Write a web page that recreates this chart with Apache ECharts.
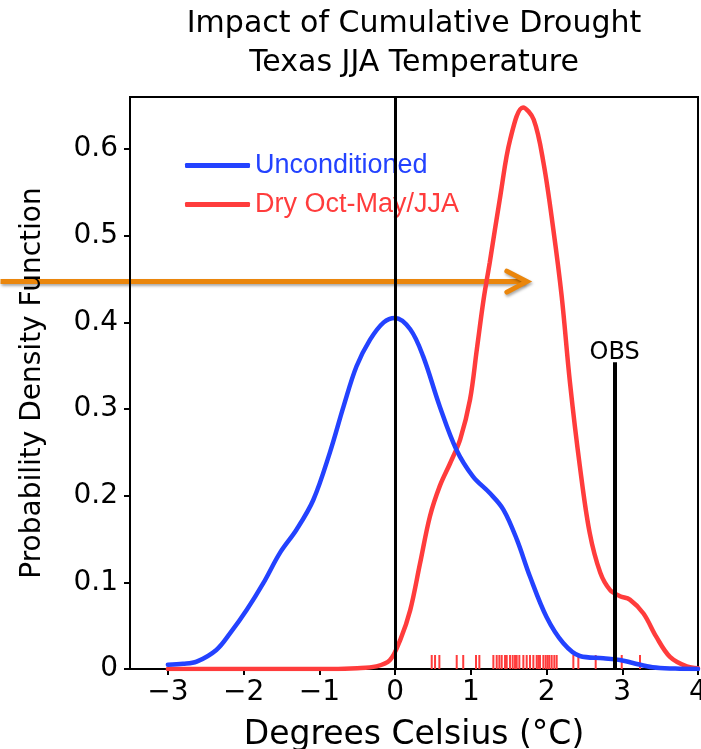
<!DOCTYPE html>
<html>
<head>
<meta charset="utf-8">
<script src="https://cdn.jsdelivr.net/npm/echarts@6/dist/echarts.min.js"></script>
<style>html,body{margin:0;padding:0;background:#fff;}#c{width:701px;height:749px;}</style>
</head>
<body>
<div id="c"></div>
<script>
// ---- data ----
const titleLines = ['Impact of Cumulative Drought', 'Texas JJA Temperature'];
const xTicks = [-3, -2, -1, 0, 1, 2, 3, 4];
const yTicks = [0, 0.1, 0.2, 0.3, 0.4, 0.5, 0.6];
const seriesNames = ['Unconditioned', 'Dry Oct-May/JJA'];
const unconditioned = [
  [-3.0,0.005],[-2.8,0.006],[-2.62,0.0085],[-2.36,0.022],[-2.18,0.041],[-1.96,0.068],
  [-1.74,0.099],[-1.52,0.134],[-1.30,0.161],[-1.08,0.195],[-0.86,0.25],[-0.68,0.303],
  [-0.51,0.349],[-0.33,0.38],[-0.15,0.40],[0,0.405],[0.2,0.392],[0.37,0.361],
  [0.59,0.303],[0.81,0.253],[1.03,0.222],[1.25,0.203],[1.43,0.184],[1.61,0.149],
  [1.78,0.107],[2.0,0.06],[2.22,0.030],[2.44,0.015],[2.75,0.0124],[2.97,0.0104],
  [3.14,0.007],[3.4,0.002],[3.7,0.0005],[4.0,0]
];
const dryCond = [
  [-3.0,0],[-2,0],[-1,0],[-0.5,0.001],[-0.25,0.003],[-0.07,0.010],[0.07,0.034],
  [0.2,0.068],[0.33,0.122],[0.46,0.176],[0.59,0.211],[0.73,0.238],[0.86,0.265],
  [0.99,0.311],[1.08,0.369],[1.17,0.427],[1.25,0.469],[1.39,0.546],[1.52,0.611],
  [1.69,0.648],[1.83,0.634],[1.96,0.584],[2.09,0.507],[2.2,0.43],[2.31,0.33],
  [2.44,0.234],[2.57,0.157],[2.71,0.111],[2.84,0.091],[2.97,0.084],[3.1,0.08],
  [3.28,0.064],[3.45,0.037],[3.63,0.014],[3.85,0.003],[4.0,0.001]
];
const rugValues = [0.484,0.528,0.585,0.814,0.90,1.069,1.113,1.298,1.342,1.377,1.408,1.452,
  1.474,1.518,1.553,1.584,1.606,1.641,1.694,1.738,1.782,1.826,1.870,1.892,1.914,1.958,
  1.989,2.015,2.037,2.068,2.103,2.134,2.354,2.420,2.649,2.993,3.234];
const zeroLineX = 0;
const obsX = 2.9;
const obsTop = 0.354;
const obsLabel = 'OBS';
const arrowY = 0.447;
const arrowStartX = -5.21;
const arrowEndX = 1.74;
const xName = 'Degrees Celsius (°C)';
const yName = 'Probability Density Function';

// ---- chart ----
const FONT = 'DejaVu Sans';
const LFONT = 'Liberation Sans';
const BLUE = '#2342ff', RED = '#ff3c3c', ORANGE = '#ea860c';
const chart = echarts.init(document.getElementById('c'), null, {renderer: 'canvas'});
const option = {
  animation: false,
  backgroundColor: '#fff',
  title: {
    text: titleLines.join('\n'),
    left: 409, top: 0, textAlign: 'center',
    textStyle: {fontFamily: FONT, fontWeight: 'normal', fontSize: 30, color: '#000', lineHeight: 39}
  },
  grid: {left: 130, right: 3, top: 97, bottom: 80, show: true, borderColor: '#000', borderWidth: 2,
    backgroundColor: 'transparent', containLabel: false, outerBoundsMode: 'none'},
  legend: {
    orient: 'vertical', left: 180, top: 147, itemGap: 12,
    itemWidth: 65, itemHeight: 5, icon: 'roundRect',
    textStyle: {fontFamily: LFONT, fontSize: 27, lineHeight: 27},
    data: [
      {name: seriesNames[0], textStyle: {color: BLUE}},
      {name: seriesNames[1], textStyle: {color: RED}}
    ]
  },
  xAxis: {
    type: 'value', min: -3.5, max: 4,
    name: xName, nameLocation: 'middle', nameGap: 50,
    nameTextStyle: {fontFamily: FONT, fontSize: 33, color: '#000'},
    axisLine: {show: true, onZero: false, lineStyle: {color: '#000', width: 2}},
    axisTick: {show: true, length: 6, lineStyle: {color: '#000', width: 2}, customValues: xTicks},
    axisLabel: {fontFamily: FONT, fontSize: 28, color: '#000', margin: 10, customValues: xTicks,
      formatter: v => String(v).replace('-', '\u2212')},
    splitLine: {show: false}
  },
  yAxis: {
    type: 'value', min: 0, max: 0.66,
    name: yName, nameLocation: 'middle', nameGap: 83, nameRotate: 90,
    nameTextStyle: {fontFamily: FONT, fontSize: 28, color: '#000'},
    axisLine: {show: true, onZero: false, lineStyle: {color: '#000', width: 2}},
    axisTick: {show: true, length: 6, lineStyle: {color: '#000', width: 2}, customValues: yTicks},
    axisLabel: {fontFamily: FONT, fontSize: 28, color: '#000', margin: 12, customValues: yTicks},
    splitLine: {show: false}
  },
  series: [
    {
      name: 'rug', type: 'custom', silent: true, z: 1,
      data: rugValues.map(v => [v, 0]),
      renderItem: function (params, api) {
        const p = api.coord([api.value(0), 0]);
        return {type: 'line', shape: {x1: p[0], y1: p[1], x2: p[0], y2: p[1] - 14},
          style: {stroke: RED, lineWidth: 2}};
      }
    },
    {
      name: 'refs', type: 'line', data: [], z: 4,
      markLine: {
        silent: true, symbol: 'none', animation: false,
        data: [
          [{coord: [zeroLineX, 0], lineStyle: {color: '#000', width: 3, type: 'solid'}, label: {show: false}},
           {coord: [zeroLineX, 0.66]}],
          [{coord: [obsX, 0], lineStyle: {color: '#000', width: 4, type: 'solid'},
            label: {show: true, position: 'end', formatter: obsLabel, fontFamily: FONT, fontSize: 24, color: '#000', distance: -3}},
           {coord: [obsX, obsTop]}]
        ]
      }
    },
    {
      name: seriesNames[1], type: 'line', data: dryCond, smooth: 0.35,
      showSymbol: false, symbol: 'none', z: 3,
      lineStyle: {color: RED, width: 4.5, cap: 'round'}, itemStyle: {color: RED}
    },
    {
      name: seriesNames[0], type: 'line', data: unconditioned, smooth: 0.35,
      showSymbol: false, symbol: 'none', z: 3,
      lineStyle: {color: BLUE, width: 4.5, cap: 'round'}, itemStyle: {color: BLUE}
    }
  ]
};
chart.setOption(option);

const s = chart.convertToPixel({gridIndex: 0}, [arrowStartX, arrowY]);
const e = chart.convertToPixel({gridIndex: 0}, [arrowEndX, arrowY]);
const shadow = {shadowColor: 'rgba(0,0,0,0.35)', shadowBlur: 3, shadowOffsetX: 1, shadowOffsetY: 2};
chart.setOption({
  graphic: [{
    type: 'group', z: 100,
    children: [
      {type: 'line', shape: {x1: s[0], y1: s[1], x2: e[0] - 2, y2: e[1]},
        style: Object.assign({stroke: ORANGE, lineWidth: 5}, shadow)},
      {type: 'polyline', shape: {points: [[e[0] - 20, e[1] - 10.5], [e[0], e[1]], [e[0] - 20, e[1] + 10.5]]},
        style: Object.assign({stroke: ORANGE, lineWidth: 5, fill: null, lineCap: 'round', lineJoin: 'miter'}, shadow)}
    ]
  }]
});
</script>
</body>
</html>
